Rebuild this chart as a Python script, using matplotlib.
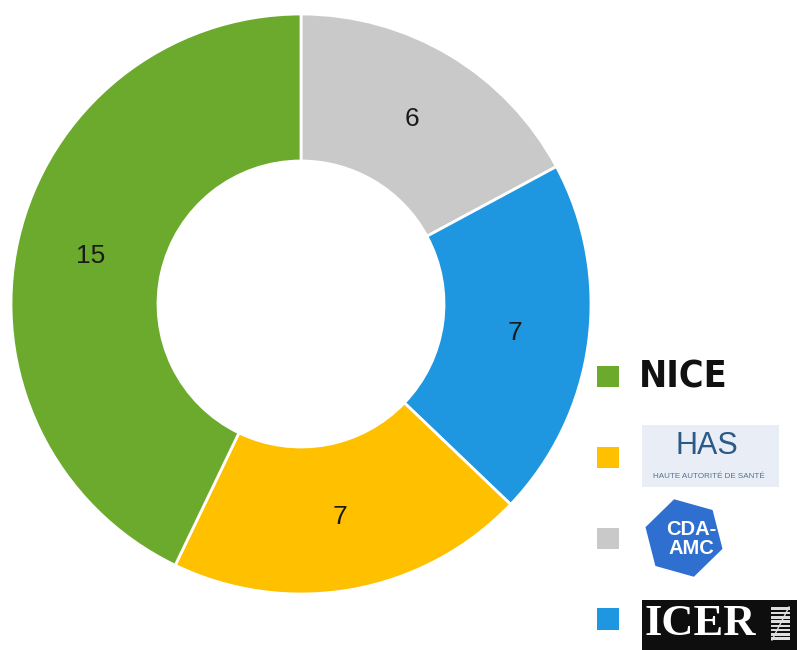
import matplotlib
matplotlib.use("Agg")
import matplotlib.pyplot as plt
from matplotlib.patches import RegularPolygon, Rectangle

# ---- data ----
categories = ["CDA-AMC", "ICER", "HAS", "NICE"]
values = [6, 7, 7, 15]
colors = ["#C9C9C9", "#1F96E0", "#FFC000", "#6CAA2E"]
legend_order = ["NICE", "HAS", "CDA-AMC", "ICER"]

W, H = 797, 650
fig = plt.figure(figsize=(W / 100, H / 100), dpi=100)
fig.patch.set_facecolor("white")
ax = fig.add_axes([0, 0, 1, 1])

def fx(x):
    return x / W

def fy(y):
    return 1 - y / H

R = 290
cx, cy = 301, H - 304
wedges, texts, autotexts = ax.pie(
    values, colors=colors, startangle=90, counterclock=False,
    radius=R, center=(cx, cy), frame=True,
    autopct=lambda p: f"{round(p * sum(values) / 100):d}",
    pctdistance=0.745,
    wedgeprops=dict(width=147, edgecolor="white", linewidth=2),
    textprops=dict(fontsize=19, family="Liberation Sans", color="#1a1a1a"),
)
ax.set_xlim(0, W)
ax.set_ylim(0, H)
ax.set_aspect("auto")
ax.axis("off")

# legend markers (logos drawn next to them)
handle_map = dict(zip(categories, wedges))
handles = [handle_map[c] for c in legend_order]
leg = ax.legend(handles, ["" for _ in legend_order], loc="upper left",
                bbox_to_anchor=(fx(587), fy(356)), bbox_transform=fig.transFigure,
                frameon=False, handlelength=1.15, handleheight=1.3,
                fontsize=14, labelspacing=3.07, borderpad=0, handletextpad=0)
for h in leg.legend_handles:
    h.set_edgecolor("none")

# NICE logo
fig.text(fx(639), fy(378), "NICE", fontsize=27, fontweight="bold",
         family="DejaVu Sans", fontstretch="condensed", va="center",
         ha="left", color="#111111")

# HAS logo
ax.add_patch(Rectangle((642, H - 487), 137, 62, facecolor="#E9EEF6",
                       edgecolor="none"))
ax.text(707, H - 446, "HAS", fontsize=22, family="Liberation Sans",
        color="#2B5A86", ha="center", va="center")
ax.text(709, H - 477, "HAUTE AUTORITÉ DE SANTÉ", fontsize=5.8,
        family="Liberation Sans", color="#55718F", ha="center", va="center")

# CDA-AMC logo
ax.add_patch(RegularPolygon((684, H - 538), numVertices=6, radius=40,
                            orientation=0.25, facecolor="#2F6FD0",
                            edgecolor="none"))
ax.text(691, H - 539, "CDA-\nAMC", fontsize=14.5, fontweight="bold",
        family="Liberation Sans", color="white", ha="center", va="center",
        linespacing=0.95)

# ICER logo
ax.add_patch(Rectangle((642, 0), 155, H - 600, facecolor="#0E0E0E",
                       edgecolor="none"))
ax.text(645, H - 624, "ICER", fontsize=32, fontweight="bold",
        family="Liberation Serif", color="white", ha="left", va="center")
for k in range(8):
    ax.add_patch(Rectangle((771, H - 640 + k * 4.3), 19, 2.6,
                           facecolor="#DDDDDD", edgecolor="none"))
ax.plot([772, 789], [H - 640, H - 607], color="#DDDDDD", lw=1)

fig.savefig("out.png", dpi=100, facecolor="white")
